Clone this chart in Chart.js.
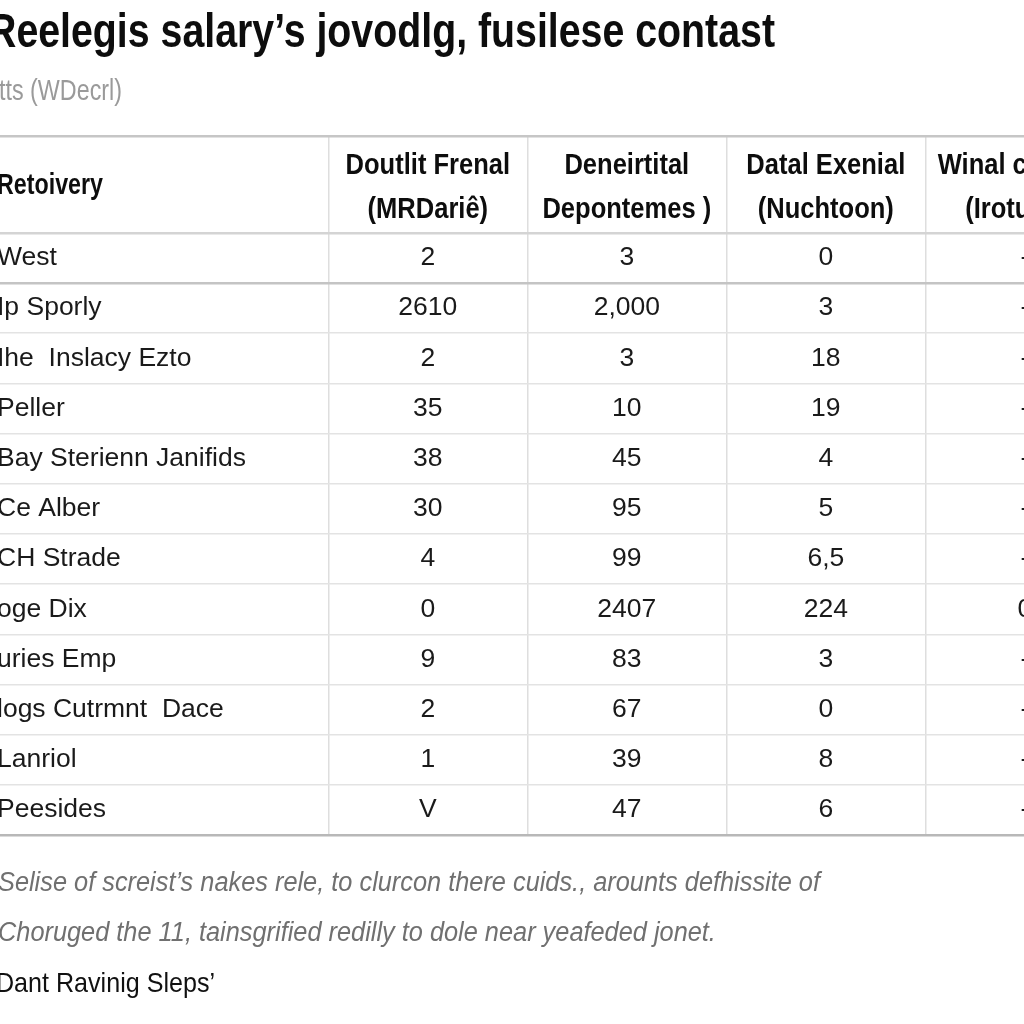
<!DOCTYPE html>
<html>
<head>
<meta charset="utf-8">
<script src="https://cdn.jsdelivr.net/npm/chart.js@4.4.1/dist/chart.umd.min.js"></script>
<style>
  html, body { margin: 0; padding: 0; background: #ffffff; }
  #wrap { width: 1024px; height: 1024px; position: relative; }
  canvas { display: block; }
</style>
</head>
<body>
<div id="wrap"><canvas id="c" width="1024" height="1024"></canvas></div>
<script>
// ---- Data ----
const titleText = "Reelegis salary\u2019s jovodlg, fusilese contast";
const subtitleText = "tts (WDecrl)";
const firstHeader = "Retoivery";
const columnHeaders = [
  ["Doutlit Frenal", "(MRDari\u00ea)"],
  ["Deneirtital", "Depontemes )"],
  ["Datal Exenial", "(Nuchtoon)"],
  ["Winal comtrial", "(Irotulant)"]
];
const categories = [
  "West", "Ip Sporly", "Ihe  Inslacy Ezto", "Peller", "Bay Sterienn Janifids",
  "Ce Alber", "CH Strade", "oge Dix", "uries Emp", "logs Cutrmnt  Dace",
  "Lanriol", "Peesides"
];
const doutlitValues     = ["2", "2610", "2", "35", "38", "30", "4", "0", "9", "2", "1", "V"];
const deneirtitalValues = ["3", "2,000", "3", "10", "45", "95", "99", "2407", "83", "67", "39", "47"];
const datalValues       = ["0", "3", "18", "19", "4", "5", "6,5", "224", "3", "0", "8", "6"];
const winalValues       = ["-", "-", "-", "-", "-", "-", "-", "0", "-", "-", "-", "-"];
const footnoteLines = [
  "Selise of screist\u2019s nakes rele, to clurcon there cuids., arounts defhissite of",
  "Choruged the 11, tainsgrified redilly to dole near yeafeded jonet."
];
const sourceText = "Dant Ravinig Sleps\u2019";

// ---- Table geometry in scale units ----
const FIRST_COL = 1.65;        // width of label column (in column units)
const X_MAX = 5.146;           // visible extent in column units
const HEADER_H = 1.93;         // header row height (in row units)
const Y_MAX = HEADER_H + categories.length;

const valueSeries = [doutlitValues, deneirtitalValues, datalValues, winalValues];

const colEdges = valueSeries.map((_, k) => FIRST_COL + k);
const rowEdges = [0, HEADER_H].concat(categories.map((_, i) => HEADER_H + i + 1));

const datasets = [];
datasets.push({
  label: "labels",
  kind: "label",
  data: categories.map((c, i) => ({ x: 0, y: HEADER_H + i + 0.5, t: c })),
  pointRadius: 0
});
valueSeries.forEach((arr, k) => {
  datasets.push({
    label: columnHeaders[k].join(" "),
    kind: "value",
    data: arr.map((v, i) => ({ x: FIRST_COL + k + 0.5, y: HEADER_H + i + 0.5, t: v })),
    pointRadius: 0
  });
});

const SANS = "'Liberation Sans', Arial, sans-serif";
const BODY_FONT = "26.5px " + SANS;
const HEAD_FONT = "bold 29px " + SANS;
const HEAD_NARROW = 0.88;

// draw text horizontally condensed by factor sx
function drawScaled(ctx, text, x, y, sx, align) {
  ctx.save();
  ctx.translate(x, y);
  ctx.scale(sx, 1);
  ctx.textAlign = align || "left";
  ctx.fillText(text, 0, 0);
  ctx.restore();
}
function fitScale(ctx, text, width) {
  return width / ctx.measureText(text).width;
}

const tablePlugin = {
  id: "tableText",
  afterDatasetsDraw(chart) {
    const ctx = chart.ctx;
    const xs = chart.scales.x, ys = chart.scales.y;
    ctx.save();
    ctx.textBaseline = "middle";
    // header
    const hy = (ys.getPixelForValue(0) + ys.getPixelForValue(HEADER_H)) / 2;
    ctx.fillStyle = "#0d0d0d";
    ctx.font = HEAD_FONT;
    drawScaled(ctx, firstHeader, xs.getPixelForValue(0) - 3, hy + 2, fitScale(ctx, firstHeader, 106), "left");
    columnHeaders.forEach((lines, k) => {
      const cx = xs.getPixelForValue(FIRST_COL + k + 0.5);
      drawScaled(ctx, lines[0], cx, hy - 18, HEAD_NARROW, "center");
      drawScaled(ctx, lines[1], cx, hy + 26, HEAD_NARROW, "center");
    });
    // body
    ctx.font = BODY_FONT;
    ctx.fillStyle = "#1a1a1a";
    chart.data.datasets.forEach((ds, di) => {
      const meta = chart.getDatasetMeta(di);
      meta.data.forEach((el, i) => {
        const t = ds.data[i].t;
        if (ds.kind === "label") {
          ctx.textAlign = "left";
          ctx.fillText(t, el.x - 3, el.y);
        } else {
          ctx.textAlign = "center";
          ctx.fillText(t, el.x, el.y);
        }
      });
    });
    ctx.restore();
  }
};

const chromePlugin = {
  id: "chrome",
  beforeDraw(chart) {
    const ctx = chart.ctx;
    ctx.save();
    ctx.fillStyle = "#ffffff";
    ctx.fillRect(0, 0, chart.width, chart.height);
    ctx.textBaseline = "middle";
    // title
    ctx.fillStyle = "#0d0d0d";
    ctx.font = "bold 48px " + SANS;
    drawScaled(ctx, titleText, -12, 34, fitScale(ctx, titleText, 787));
    // subtitle
    ctx.fillStyle = "#9a9a9a";
    ctx.font = "29px " + SANS;
    drawScaled(ctx, subtitleText, -1, 92, fitScale(ctx, subtitleText, 123));
    // footnote
    ctx.fillStyle = "#707070";
    ctx.font = "italic 27px " + SANS;
    const fs = fitScale(ctx, footnoteLines[0], 822);
    drawScaled(ctx, footnoteLines[0], -2, 883, fs);
    drawScaled(ctx, footnoteLines[1], -2, 933, fs);
    // source
    ctx.fillStyle = "#111111";
    ctx.font = "28px " + SANS;
    drawScaled(ctx, sourceText, -4, 984, fitScale(ctx, sourceText, 219));
    ctx.restore();
  }
};

function isMajor(v) {
  return Math.abs(v) < 1e-6 || Math.abs(v - HEADER_H) < 1e-6 ||
         Math.abs(v - (HEADER_H + 1)) < 1e-6 || Math.abs(v - Y_MAX) < 1e-6;
}
function hLineColor(v) {
  if (Math.abs(v) < 1e-6) return "#c6c6c6";
  if (Math.abs(v - HEADER_H) < 1e-6) return "#d4d4d4";
  if (Math.abs(v - (HEADER_H + 1)) < 1e-6) return "#c4c4c4";
  if (Math.abs(v - Y_MAX) < 1e-6) return "#b8b8b8";
  return "#e3e3e3";
}

new Chart(document.getElementById("c"), {
  type: "scatter",
  data: { datasets },
  plugins: [chromePlugin, tablePlugin],
  options: {
    responsive: false,
    animation: false,
    events: [],
    layout: { padding: { top: 136, bottom: 189, left: 0, right: 0 } },
    plugins: { legend: { display: false }, tooltip: { enabled: false }, title: { display: false } },
    scales: {
      x: {
        type: "linear", min: 0, max: X_MAX,
        ticks: { display: false },
        border: { display: false },
        afterBuildTicks: (s) => { s.ticks = colEdges.map(v => ({ value: v })); },
        grid: { drawTicks: false, color: "#dedede", lineWidth: 1.5 }
      },
      y: {
        type: "linear", min: 0, max: Y_MAX, reverse: true,
        ticks: { display: false },
        border: { display: false },
        afterBuildTicks: (s) => { s.ticks = rowEdges.map(v => ({ value: v })); },
        grid: {
          drawTicks: false,
          color: (c) => hLineColor(c.tick.value),
          lineWidth: (c) => isMajor(c.tick.value) ? 2.5 : 1.5
        }
      }
    }
  }
});
</script>
</body>
</html>
